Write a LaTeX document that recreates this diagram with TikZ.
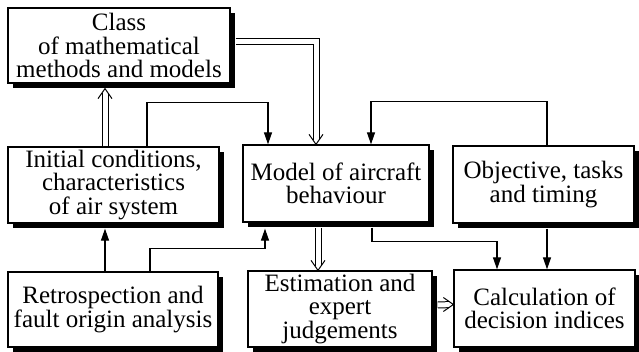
\documentclass[tikz,border=0pt]{standalone}
\usepackage{fontspec}
\setmainfont{Liberation Serif}
\newfontfamily\boxfont{Liberation Serif}
\usepackage{tikz}
\usetikzlibrary{arrows.meta,shadows}

\tikzset{
  box/.style={draw, line width=1.3pt, fill=white, inner sep=0pt, align=center,
    font=\boxfont\fontsize{25pt}{23.5pt}\selectfont,
    drop shadow={shadow xshift=5pt, shadow yshift=-5pt, opacity=1, fill=black}},
  arr/.style={line width=1.2pt, -{Triangle[length=12pt,width=8pt]}},
  dbl/.style={line width=1pt, double, double distance=5pt, shorten >=4.5pt},
  vtip/.pic={\draw[line width=1pt, line join=miter] (-10pt,-7pt) -- (0,0) -- (-10pt,7pt);},
}

\begin{document}
\begin{tikzpicture}[x=1pt,y=-1pt]
                \useasboundingbox (0,0) rectangle (639,352);

                % Boxes
                \node[box, minimum width=222pt, minimum height=75pt] (cls) at (119,45.5) {Class\\of mathematical\\methods and models};
                \node[box, minimum width=211pt, minimum height=76pt] (ini) at (113.5,185) {Initial conditions,\\characteristics\\of air system};
                \node[box, minimum width=186pt, minimum height=77pt] (mdl) at (336,183.5) {Model of aircraft\\behaviour};
                \node[box, minimum width=181pt, minimum height=77pt] (obj) at (543.5,184.5) {Objective, tasks\\and timing};
                \node[box, minimum width=210pt, minimum height=75pt] (ret) at (113,309.5) {Retrospection and\\fault origin analysis};
                \node[box, minimum width=184pt, minimum height=76pt] (est) at (340,309) {Estimation and\\expert\\judgements};
                \node[box, minimum width=181pt, minimum height=77pt] (clc) at (544.5,308.5) {Calculation of\\decision indices};

                % Double arrows
                \draw[dbl] ([xshift=-8.5pt]ini.north) -- ([xshift=-14pt,yshift=-5pt]cls.south);
                \pic[rotate=90] at ([xshift=-14pt,yshift=-5pt]cls.south) {vtip};
                \draw[dbl] ([xshift=5pt,yshift=4pt]cls.east) -| ([xshift=-20pt]mdl.north);
                \pic[rotate=-90] at ([xshift=-20pt]mdl.north) {vtip};
                \draw[dbl] ([xshift=-18pt,yshift=-5pt]mdl.south) -- ([xshift=-22pt]est.north);
                \pic[rotate=-90] at ([xshift=-22pt]est.north) {vtip};
                \draw[dbl] ([xshift=5pt,yshift=4pt]est.east) -- ([yshift=4pt]clc.west);
                \pic at ([yshift=4pt]clc.west) {vtip};

                % Single arrows
                \draw[arr] ([xshift=33.5pt]ini.north) |- ([xshift=-68pt,yshift=42pt]mdl.north) -- ([xshift=-68pt]mdl.north);
                \draw[arr, {Triangle[length=12pt,width=8pt]}-] ([xshift=35pt]mdl.north) |- ([xshift=3.5pt,yshift=44pt]obj.north) -- ([xshift=3.5pt]obj.north);
                \draw[arr] ([xshift=-8pt]ret.north) -- ([xshift=-8.5pt,yshift=-5pt]ini.south);
                \draw[arr] ([xshift=37pt]ret.north) |- ([xshift=-71pt,yshift=-26pt]mdl.south) -- ([xshift=-71pt,yshift=-6pt]mdl.south);
                \draw[arr] ([xshift=36pt,yshift=-5pt]mdl.south) |- ([xshift=-47.5pt,yshift=28pt]clc.north) -- ([xshift=-47.5pt]clc.north);
                \draw[arr] ([xshift=3.5pt,yshift=-5pt]obj.south) -- ([xshift=2.5pt]clc.north);
            \end{tikzpicture}
\end{document}
